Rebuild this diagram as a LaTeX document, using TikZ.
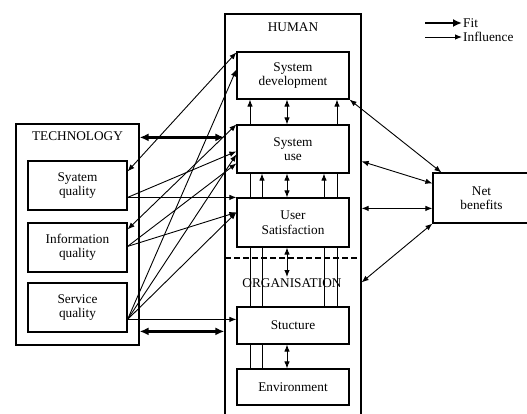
\documentclass[tikz,border=0pt]{standalone}
\usepackage{fontspec}
\setmainfont{Liberation Serif}
\usetikzlibrary{arrows.meta,calc,backgrounds}
\begin{document}
\begin{tikzpicture}[x=1pt,y=-1pt,
  txt/.style={font=\fontsize{13.3}{14.5}\selectfont, inner sep=0pt},
  box/.style={draw, line width=1.2pt, fill=white, align=center, inner sep=0pt, font=\fontsize{13.3}{14.5}\selectfont},
  frame/.style={draw, line width=1.2pt, inner sep=0pt},
  inf/.style={line width=0.9pt, -{Latex[length=7pt,width=5.5pt]}},
  infb/.style={line width=0.9pt, {Latex[length=7pt,width=5.5pt]}-{Latex[length=7pt,width=5.5pt]}},
  fitb/.style={line width=2.6pt, {Latex[length=9pt,width=8pt]}-{Latex[length=9pt,width=8pt]}},
  fita/.style={line width=2.6pt, -{Latex[length=9pt,width=8pt]}}
]
\useasboundingbox (0,0) rectangle (527,414);

% outer frames
\node[frame, minimum width=123pt, minimum height=221pt] (tech) at (77.5,234.5) {};
\node[txt] (techl) at (77.5,136) {TECHNOLOGY};
\node[frame, minimum width=136pt, minimum height=410pt] (human) at (293,219) {};
\node[txt] (humanl) at (293,27) {HUMAN};
\node[txt] (orgl) at (292,283) {ORGANISATION};
\coordinate (dl) at (225,258);
\coordinate (dr) at (361,258);
\draw[dashed, line width=1.2pt, dash pattern=on 6pt off 3pt] (dl) -- (dr);

% technology boxes
\node[box, minimum width=99pt, minimum height=49pt] (sq) at (77.5,185.5) {Syatem\\quality};
\node[box, minimum width=99pt, minimum height=49pt] (iq) at (77.5,247.5) {Information\\quality};
\node[box, minimum width=99pt, minimum height=49pt] (svq) at (77.5,307.5) {Service\\quality};

% human / organisation boxes
\node[box, minimum width=112pt, minimum height=47pt] (sysdev) at (293,75.5) {System\\development};
\node[box, minimum width=112pt, minimum height=48pt] (sysuse) at (293,149) {System\\use};
\node[box, minimum width=112pt, minimum height=49pt] (usersat) at (293,222.5) {User\\Satisfaction};
\node[box, minimum width=112pt, minimum height=37pt] (stuct) at (293,325.5) {Stucture};
\node[box, minimum width=112pt, minimum height=36pt] (env) at (293,387) {Environment};

% net benefits
\node[box, minimum width=97pt, minimum height=50pt] (net) at (481.5,198) {Net\\benefits};

% legend
\coordinate (lf1) at (425,23);
\coordinate (lf2) at (462,23);
\coordinate (li1) at (425,37);
\coordinate (li2) at (462,37);
\draw[fita] (lf1) -- (lf2);
\draw[inf] (li1) -- (li2);
\node[txt, anchor=west] (fitl) at (463,23) {Fit};
\node[txt, anchor=west] (infl) at (463,37) {Influence};

\begin{pgfonlayer}{background}
% vertical links inside human/organisation
\coordinate (x1) at (250,0);
\coordinate (x2) at (262,0);
\coordinate (x3) at (287,0);
\coordinate (x4) at (324,0);
\coordinate (x5) at (337,0);
\coordinate (orgtop) at (287,277);
\draw[inf] (env.north -| x1) -- (sysdev.south -| x1);
\draw[inf] (env.north -| x2) -- (sysuse.south -| x2);
\draw[inf] (stuct.north -| x4) -- (sysuse.south -| x4);
\draw[inf] (stuct.north -| x5) -- (sysdev.south -| x5);
\draw[infb] (sysdev.south -| x3) -- (sysuse.north -| x3);
\draw[infb] (sysuse.south -| x3) -- (usersat.north -| x3);
\draw[infb] (usersat.south -| x3) -- (orgtop);
\draw[infb] (stuct.south -| x3) -- (env.north -| x3);

% fit arrows
\draw[fitb] ($(tech.north east)+(0,14)$) -- ($(human.north west)+(0,124)$);
\draw[fitb] ($(tech.north east)+(0,208)$) -- ($(human.north west)+(0,318)$);

% technology -> human
\draw[infb] ($(sq.north east)+(0,11)$) -- ($(sysdev.north west)+(0,1)$);
\draw[inf] ($(sq.north east)+(0,37)$) -- (usersat.north west);
\draw[inf] ($(sq.north east)+(0,37)$) -- ($(sysuse.north west)+(0,27)$);
\draw[infb] ($(iq.north east)+(0,7)$) -- (sysuse.north west);
\draw[inf] ($(iq.north east)+(0,24)$) -- ($(sysuse.north west)+(0,39)$);
\draw[inf] ($(iq.north east)+(0,24)$) -- ($(usersat.north west)+(0,15)$);
\draw[inf] ($(svq.north east)+(0,37)$) -- ($(sysdev.north west)+(0,18)$);
\draw[inf] ($(svq.north east)+(0,37)$) -- ($(sysuse.north west)+(0,30)$);
\draw[inf] ($(svq.north east)+(0,37)$) -- ($(usersat.north west)+(0,15)$);
\draw[inf] ($(svq.north east)+(0,37)$) -- ($(stuct.north west)+(0,13)$);

% human -> net benefits
\draw[infb] (sysdev.south east) -- ($(net.north west)+(9,0)$);
\draw[infb] ($(human.north east)+(0,148)$) -- ($(net.north west)+(0,11)$);
\draw[infb] ($(human.north east)+(0,195)$) -- ($(net.north west)+(0,36)$);
\draw[infb] ($(human.north east)+(0,269)$) -- (net.south west);
\end{pgfonlayer}
\end{tikzpicture}
\end{document}
